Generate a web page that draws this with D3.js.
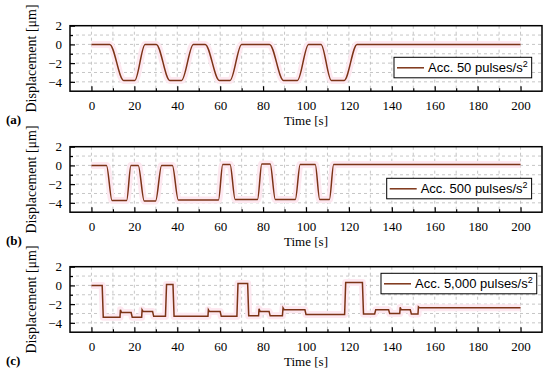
<!DOCTYPE html>
<html>
<head>
<meta charset="utf-8">
<script src="https://cdn.jsdelivr.net/npm/d3@7"></script>
<style>
  body { margin: 0; background: #fff; }
</style>
</head>
<body>
<div id="chart"></div>
<script>
// data
var timeA = [0, 8.5, 15, 20.2, 25, 30.2, 36.5, 42, 47.5, 53, 59.6, 64.6, 70, 83, 89.5, 96, 101.2, 107, 111.8, 117.8, 123.8, 200];
var dispA = [0, 0, -3.85, -3.85, 0, 0, -3.85, -3.85, 0, 0, -3.85, -3.85, 0, 0, -3.85, -3.85, 0, 0, -3.85, -3.85, 0, 0];

var timeB = [0, 7, 9.6, 16.4, 18.4, 21.8, 24.6, 29.9, 32.7, 37.7, 40.5, 59.2, 61.2, 64.6, 67, 77.4, 79.4, 83.3, 85.7, 95, 97.3, 104.3, 106.4, 110.9, 112.9, 200];
var dispB = [0, 0, -3.75, -3.75, 0, 0, -3.8, -3.8, 0, 0, -3.7, -3.7, 0.1, 0.1, -3.65, -3.65, 0.15, 0.15, -3.65, -3.65, 0.1, 0.1, -3.65, -3.65, 0.1, 0.1];

var timeC = [0, 5, 5.5, 13.3, 13.5, 14, 18.5, 19, 23.4, 23.6, 24.1, 28.5, 29, 34.5, 35, 38, 38.5,
             54.3, 54.5, 55, 60, 60.5, 67.8, 68.3, 72.8, 73.3, 77.9, 78.1, 78.6, 82.8, 83.3,
             89, 89.3, 89.8, 99.5, 100, 118, 118.5, 126.3, 126.8, 132, 132.5, 138.5, 139,
             143.7, 143.9, 144.4, 148.6, 149.1, 152.2, 152.4, 152.9, 200];
var dispC = [0, 0, -3.4, -3.4, -2.6, -2.9, -2.9, -3.4, -3.4, -2.6, -2.8, -2.8, -3.3, -3.3, 0.1, 0.1, -3.3,
             -3.3, -2.6, -2.8, -2.8, -3.3, -3.3, 0.2, 0.2, -3.25, -3.25, -2.5, -2.8, -2.8, -3.25,
             -3.25, -2.4, -2.6, -2.6, -3.1, -3.1, 0.3, 0.3, -3.05, -3.05, -2.6, -2.6, -3.0,
             -3.0, -2.35, -2.6, -2.6, -3.05, -3.05, -2.3, -2.4, -2.4];

var xMajor = [0, 20, 40, 60, 80, 100, 120, 140, 160, 180, 200];
var xMinor = [10, 30, 50, 70, 90, 110, 130, 150, 170, 190];
var yMajor = [-4, -2, 0, 2];
var yMinor = [-3, -1, 1];
var gridX = d3.range(0, 201, 10);
var gridY = [-4, -3, -2, -1, 0, 1];

var legendLabels = ["Acc. 50 pulses/s", "Acc. 500 pulses/s", "Acc. 5,000 pulses/s"];
var panelLetters = ["(a)", "(b)", "(c)"];

// layout
var W = 550, H = 377;
var left = 70, right = 542, plotH = 65.5;
var tops = [25.7, 146.7, 266.7];
var legendPos = [{x: 394, dy: 31.6}, {x: 386.7, dy: 31.6}, {x: 381, dy: 6.6}];
var lineColor = "#7c3316";
var serif = "Liberation Serif";
var sans = "Liberation Sans";

var svg = d3.select("#chart")
    .append("svg")
    .attr("width", W)
    .attr("height", H)
    .style("background", "#fff");

var x = d3.scaleLinear().domain([-10, 210]).range([left, right]);

var panels = [
    {t: timeA, v: dispA, curve: d3.curveMonotoneX},
    {t: timeB, v: dispB, curve: d3.curveMonotoneX},
    {t: timeC, v: dispC, curve: d3.curveLinear}
];

panels.forEach(function (p, i) {
    var top = tops[i];
    var y = d3.scaleLinear().domain([-5, 2]).range([top + plotH, top]);
    var g = svg.append("g");

    // dashed grid
    g.selectAll(".gx").data(gridX).enter().append("line")
        .attr("x1", function (d) { return x(d); })
        .attr("x2", function (d) { return x(d); })
        .attr("y1", top).attr("y2", top + plotH)
        .attr("stroke", "#b8b8b8").attr("stroke-width", 0.8)
        .attr("stroke-dasharray", "3,3");
    g.selectAll(".gy").data(gridY).enter().append("line")
        .attr("x1", left).attr("x2", right)
        .attr("y1", function (d) { return y(d); })
        .attr("y2", function (d) { return y(d); })
        .attr("stroke", "#b8b8b8").attr("stroke-width", 0.8)
        .attr("stroke-dasharray", "3,3");

    var pts = p.t.map(function (t, k) { return [t, p.v[k]]; });
    var line = d3.line()
        .x(function (d) { return x(d[0]); })
        .y(function (d) { return y(d[1]); })
        .curve(p.curve);

    // faint pink halo behind the trace
    g.append("path").datum(pts)
        .attr("d", line)
        .attr("fill", "none")
        .attr("stroke", "#fde8f0")
        .attr("stroke-width", 7)
        .attr("stroke-linejoin", "round");
    g.append("path").datum(pts)
        .attr("d", line)
        .attr("fill", "none")
        .attr("stroke", lineColor)
        .attr("stroke-width", 1.5);

    // axes
    g.append("g")
        .attr("transform", "translate(0," + (top + plotH) + ")")
        .call(d3.axisBottom(x).tickValues(xMajor).tickSizeInner(-5).tickSizeOuter(0).tickPadding(10));
    g.append("g")
        .attr("transform", "translate(0," + (top + plotH) + ")")
        .call(d3.axisBottom(x).tickValues(xMinor).tickSizeInner(-3).tickSizeOuter(0).tickFormat(""));
    g.append("g")
        .attr("transform", "translate(" + left + ",0)")
        .call(d3.axisLeft(y).tickValues(yMajor).tickFormat(d3.format("d")).tickSizeInner(-5).tickSizeOuter(0).tickPadding(8));
    g.append("g")
        .attr("transform", "translate(" + left + ",0)")
        .call(d3.axisLeft(y).tickValues(yMinor).tickSizeInner(-3).tickSizeOuter(0).tickFormat(""));

    g.selectAll(".domain").remove();
    g.selectAll(".tick line").attr("stroke", "#000").attr("stroke-width", 1.2);
    g.selectAll(".tick text")
        .attr("font-family", serif)
        .attr("font-size", 13)
        .attr("fill", "#000");

    // frame
    g.append("rect")
        .attr("x", left).attr("y", top)
        .attr("width", right - left).attr("height", plotH)
        .attr("fill", "none")
        .attr("stroke", "#000")
        .attr("stroke-width", 1.5);

    // axis titles
    g.append("text")
        .attr("transform", "translate(36," + (top + plotH / 2) + ") rotate(-90)")
        .attr("text-anchor", "middle")
        .attr("font-family", serif)
        .attr("font-size", 14)
        .text("Displacement [μm]");
    g.append("text")
        .attr("x", (left + right) / 2)
        .attr("y", top + plotH + 29)
        .attr("dy", "0.35em")
        .attr("text-anchor", "middle")
        .attr("font-family", serif)
        .attr("font-size", 13)
        .text("Time [s]");
    g.append("text")
        .attr("x", 6)
        .attr("y", top + plotH + 28)
        .attr("dy", "0.35em")
        .attr("font-family", serif)
        .attr("font-size", 13)
        .attr("font-weight", "bold")
        .text(panelLetters[i]);

    // legend
    var lp = legendPos[i];
    var ly = top + lp.dy;
    var box = g.append("rect")
        .attr("x", lp.x).attr("y", ly)
        .attr("height", 20.5)
        .attr("fill", "#fff")
        .attr("stroke", "#000")
        .attr("stroke-width", 1);
    g.append("line")
        .attr("x1", lp.x + 3).attr("x2", lp.x + 30)
        .attr("y1", ly + 10.5).attr("y2", ly + 10.5)
        .attr("stroke", lineColor).attr("stroke-width", 1.5);
    var lt = g.append("text")
        .attr("x", lp.x + 34)
        .attr("y", ly + 15)
        .attr("font-family", sans)
        .attr("font-size", 13)
        .text(legendLabels[i]);
    lt.append("tspan")
        .attr("dy", -5)
        .attr("font-size", 9)
        .text("2");
    var tw = lt.node().getComputedTextLength();
    box.attr("width", tw + 38);
});
</script>
</body>
</html>
